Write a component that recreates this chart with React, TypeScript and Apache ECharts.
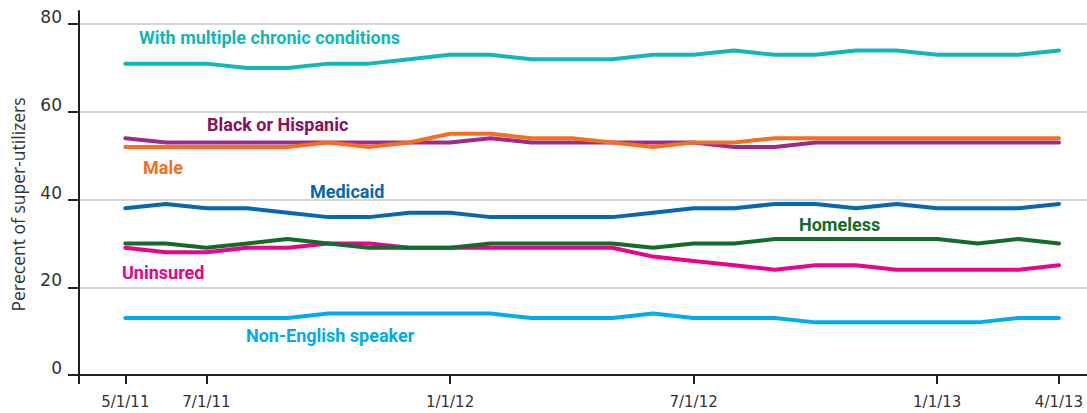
import React, { useEffect, useRef } from 'react';
import * as echarts from 'echarts';

// Monthly observations, 5/1/11 .. 4/1/13
const months = [
  '5/1/11', '6/1/11', '7/1/11', '8/1/11', '9/1/11', '10/1/11', '11/1/11', '12/1/11',
  '1/1/12', '2/1/12', '3/1/12', '4/1/12', '5/1/12', '6/1/12', '7/1/12', '8/1/12',
  '9/1/12', '10/1/12', '11/1/12', '12/1/12', '1/1/13', '2/1/13', '3/1/13', '4/1/13',
];
const tickMonths = ['5/1/11', '7/1/11', '1/1/12', '7/1/12', '1/1/13', '4/1/13'];
const yTicks = [0, 20, 40, 60, 80];

const chronic = [71, 71, 71, 70, 70, 71, 71, 72, 73, 73, 72, 72, 72, 73, 73, 74, 73, 73, 74, 74, 73, 73, 73, 74];
const blackHispanic = [54, 53, 53, 53, 53, 53, 53, 53, 53, 54, 53, 53, 53, 53, 53, 52, 52, 53, 53, 53, 53, 53, 53, 53];
const male = [52, 52, 52, 52, 52, 53, 52, 53, 55, 55, 54, 54, 53, 52, 53, 53, 54, 54, 54, 54, 54, 54, 54, 54];
const medicaid = [38, 39, 38, 38, 37, 36, 36, 37, 37, 36, 36, 36, 36, 37, 38, 38, 39, 39, 38, 39, 38, 38, 38, 39];
const uninsured = [29, 28, 28, 29, 29, 30, 30, 29, 29, 29, 29, 29, 29, 27, 26, 25, 24, 25, 25, 24, 24, 24, 24, 25];
const homeless = [30, 30, 29, 30, 31, 30, 29, 29, 29, 30, 30, 30, 30, 29, 30, 30, 31, 31, 31, 31, 31, 30, 31, 30];
const nonEnglish = [13, 13, 13, 13, 13, 14, 14, 14, 14, 14, 13, 13, 13, 14, 13, 13, 13, 12, 12, 12, 12, 12, 13, 13];

const seriesNames = [
  'With multiple chronic conditions', 'Black or Hispanic', 'Male', 'Medicaid',
  'Uninsured', 'Homeless', 'Non-English speaker',
];
const seriesValues = [chronic, blackHispanic, male, medicaid, uninsured, homeless, nonEnglish];
const lineColors = ['#12b7b6', '#9e2a8e', '#f37021', '#0667b3', '#ec008c', '#136b2d', '#00adec'];
const labelColors = ['#12b7b6', '#8a1158', '#f37021', '#0667b3', '#ec008c', '#136b2d', '#00adec'];
// label placement (left x, middle y) in pixels
const labelPos = [
  [139, 37], [207, 124], [143, 167], [310, 191], [122, 272], [799, 224], [246, 335],
];

export default function App() {
  const ref = useRef<HTMLDivElement>(null);
  useEffect(() => {
    if (!ref.current) return;
    const chart = echarts.init(ref.current, undefined, { renderer: 'svg' });
    const tickIdx = tickMonths.map((m) => months.indexOf(m));
    const xMin = -1.14;
    const xMax = 23.69;
    chart.setOption({
      animation: false,
      grid: { left: 79, right: 0, top: 11, bottom: 38, containLabel: false },
      xAxis: {
        type: 'value',
        min: xMin,
        max: xMax,
        axisLine: { show: true, onZero: false, lineStyle: { color: '#231f20', width: 2 } },
        axisTick: {
          show: true,
          length: 9,
          lineStyle: { color: '#231f20', width: 2 },
          customValues: [xMin, ...tickIdx],
        },
        axisLabel: {
          customValues: tickIdx,
          formatter: (v: number) => months[Math.round(v)] ?? '',
          color: '#333',
          fontFamily: 'DejaVu Sans',
          fontSize: 15,
          margin: 19,
        },
        splitLine: { show: false },
      },
      yAxis: {
        type: 'value',
        min: 0,
        max: 83,
        name: 'Perecent of super-utilizers',
        nameLocation: 'middle',
        nameRotate: 90,
        nameGap: 52,
        nameTextStyle: {
          fontFamily: 'Open Sans',
          fontSize: 17.5,
          color: '#333',
          padding: [0, 23, 0, 0],
        },
        axisLine: { show: true, onZero: false, lineStyle: { color: '#231f20', width: 2 } },
        axisTick: {
          show: true,
          length: 11,
          lineStyle: { color: '#231f20', width: 2 },
          customValues: yTicks,
        },
        axisLabel: {
          customValues: yTicks,
          color: '#333',
          fontFamily: 'DejaVu Sans',
          fontSize: 17,
          margin: 17,
          verticalAlign: 'bottom',
          lineHeight: 14,
        },
        splitLine: { show: true, lineStyle: { color: '#c8c8c8', width: 1.5 } },
      },
      series: seriesValues.map((vals, s) => ({
        name: seriesNames[s],
        type: 'line',
        data: vals.map((v, i) => [i, v]),
        showSymbol: false,
        symbol: 'none',
        lineStyle: { color: lineColors[s], width: 4, cap: 'round', join: 'round' },
        z: 3,
      })),
      graphic: seriesNames.map((name, s) => ({
        type: 'text',
        x: labelPos[s][0],
        y: labelPos[s][1],
        style: {
          text: name,
          fill: labelColors[s],
          font: 'bold 18px Roboto',
          textAlign: 'left',
          textVerticalAlign: 'middle',
        },
        z: 10,
      })),
    });
    return () => chart.dispose();
  }, []);
  return (
    <div
      ref={ref}
      style={{ position: 'absolute', left: 0, top: 0, width: 1087, height: 413 }}
    />
  );
}
